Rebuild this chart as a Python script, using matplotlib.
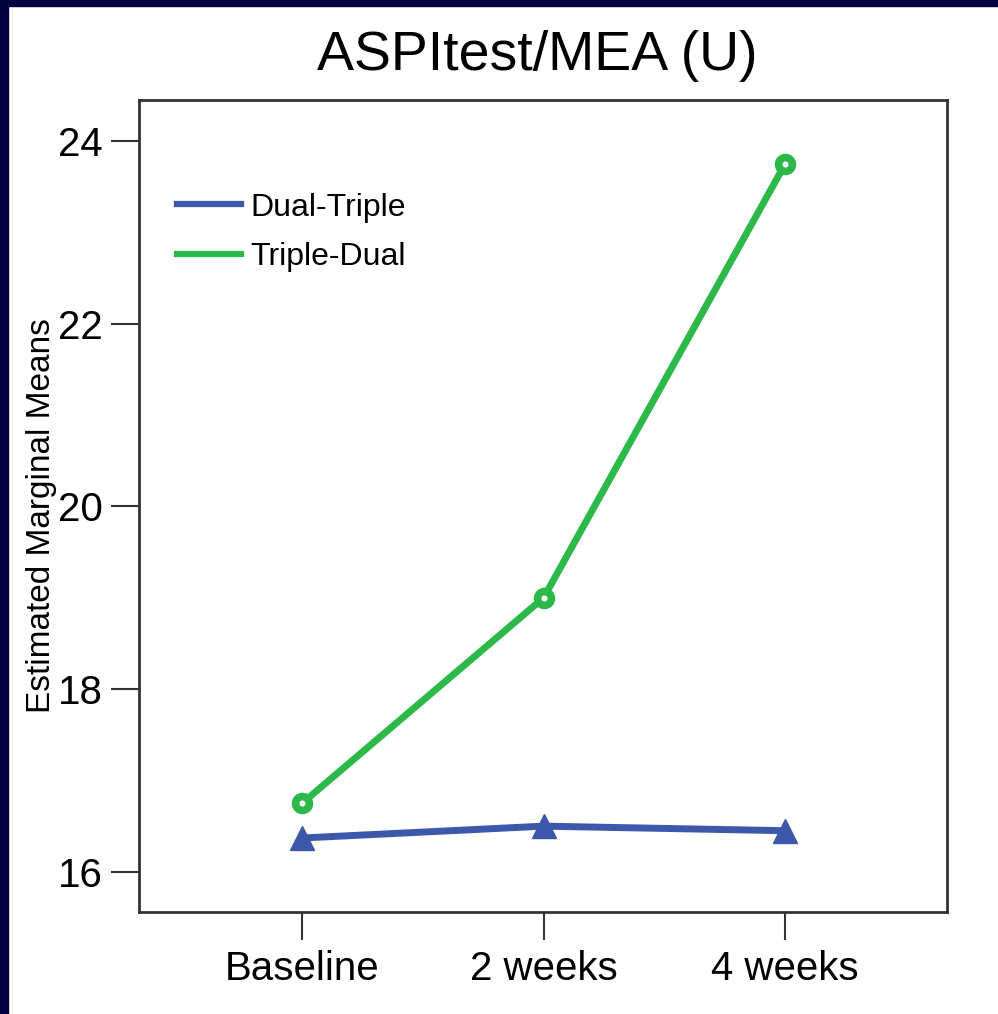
import matplotlib.pyplot as plt
from matplotlib.patches import Rectangle

plt.rcParams['font.family'] = ['Liberation Sans', 'DejaVu Sans']

times = ['Baseline', '2 weeks', '4 weeks']
dual_triple = [16.37, 16.50, 16.45]
triple_dual = [16.75, 19.0, 23.75]
yticks = [16, 18, 20, 22, 24]

blue = '#3d58aa'
green = '#2db84a'

fig = plt.figure(figsize=(9.98, 10.14), dpi=100)
# navy frame on top and left edge
fig.patches.append(Rectangle((0, 1 - 6/1014), 1, 6/1014, transform=fig.transFigure, color='#00003f', zorder=0))
fig.patches.append(Rectangle((0, 0), 8/998, 1, transform=fig.transFigure, color='#00003f', zorder=0))

ax = fig.add_axes([139/998, 1 - 912/1014, 808/998, 812/1014])
x = range(len(times))
ax.plot(x, dual_triple, color=blue, lw=5, marker='^', ms=17, mec=blue, mew=1, label='Dual-Triple')
ax.plot(x, triple_dual, color=green, lw=5, marker='o', ms=10, mfc='white', mec=green, mew=5.5, label='Triple-Dual')

ax.set_xlim(-0.675, 2.67)
ax.set_ylim(15.56, 24.45)
ax.set_xticks(list(x))
ax.set_xticklabels(times)
ax.set_yticks(yticks)
ax.tick_params(direction='out', length=20, width=1.5, color='#333333', labelsize=29)
ax.tick_params(axis='x', pad=7)
ax.tick_params(axis='y', pad=6)
for s in ax.spines.values():
    s.set_linewidth(2)
    s.set_color('#333333')
fig.text(42/998, 1 - 516/1014, 'Estimated Marginal Means', fontsize=24, rotation=90, ha='center', va='center')
fig.text(537/998, 1 - 56/1014, 'ASPItest/MEA (U)', fontsize=40, ha='center', va='center')
leg = ax.legend(loc='upper left', bbox_to_anchor=(0.047, 0.886), frameon=False, fontsize=23,
                handlelength=2.0, handletextpad=0.3, labelspacing=0.6, borderpad=0, borderaxespad=0)
for h in leg.legend_handles:
    h.set_marker('')
    h.set_linewidth(4.5)

fig.savefig('out.png', dpi=100)
